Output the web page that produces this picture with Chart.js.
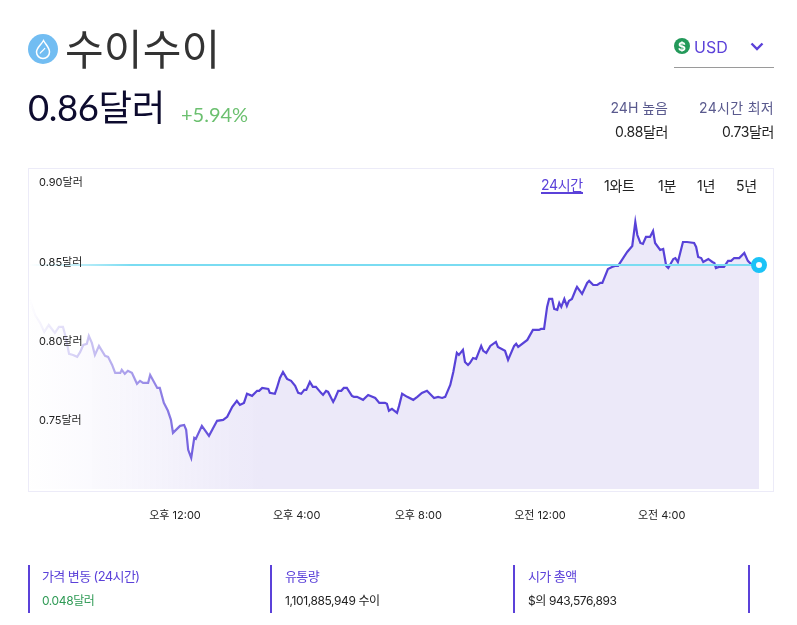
<!DOCTYPE html>
<html lang="ko">
<head>
<meta charset="utf-8">
<title>수이수이</title>
<script src="https://cdn.jsdelivr.net/npm/chart.js@4"></script>
<style>
  html, body { margin: 0; padding: 0; background: #fff; }
  body { width: 797px; height: 625px; position: relative; overflow: hidden; font-family: Inter, "Noto Sans CJK KR", sans-serif; }
  body div, body span.t { position: absolute; white-space: nowrap; }
  #myChart { position: absolute; left: 0; top: 0; }
  #box { left: 28px; top: 168px; width: 744px; height: 322px; border: 1px solid #ecebf8; }
  .stat { top: 565px; width: 2px; height: 48px; background: #5b41d9; }
  .statLabel { top: 568px; font-size: 13px; color: #5b41d9; line-height: 16px; letter-spacing: -0.6px; }
  .statValue { top: 593px; font-size: 12px; color: #222; line-height: 16px; letter-spacing: -0.4px; }
  .tab { top: 177px; font-size: 14px; line-height: 18px; color: #222; letter-spacing: -0.3px; }
  .hl { font-size: 14px; line-height: 18px; text-align: right; right: 23px; }
</style>
</head>
<body>
<div id="box"></div>
<canvas id="myChart" width="797" height="625"></canvas>

<svg style="position:absolute;left:28px;top:34px" width="30" height="30" viewBox="0 0 30 30">
  <circle cx="15" cy="15" r="15" fill="#72bdf2"/>
  <path d="M15.5 6.5 C18 11 21.5 13.5 21.5 18 A6.5 6.5 0 0 1 8.5 18 C8.5 13.5 13 11 15.5 6.5 Z" fill="none" stroke="#fff" stroke-width="1.5"/>
  <path d="M12 19.5 C13 17.5 15.5 16.5 17 14" fill="none" stroke="#fff" stroke-width="1.2"/>
</svg>
<div style="left:65px;top:17px;font:400 42px/60px 'Noto Sans CJK KR';color:#333;letter-spacing:0.2px">수이수이</div>
<div style="left:28px;top:82px;font:400 36.5px/50px Lato,'Noto Sans CJK KR';color:#0d0b2e;letter-spacing:-0.4px">0.86달러</div>
<div style="left:181px;top:100px;font:400 20px/28px Lato;color:#6cc070">+5.94%</div>

<svg style="position:absolute;left:674px;top:38px" width="16" height="16" viewBox="0 0 16 16">
  <circle cx="8" cy="8" r="8" fill="#23995a"/>
  <text x="8" y="12.5" text-anchor="middle" font-family="Inter" font-weight="700" font-size="12" fill="#fff">$</text>
</svg>
<div style="left:694px;top:37px;font:400 16px/20px Inter;color:#5b41d9">USD</div>
<svg style="position:absolute;left:750px;top:42px" width="14" height="10" viewBox="0 0 14 10">
  <path d="M1.5 1.5 L7 7 L12.5 1.5" fill="none" stroke="#5b41d9" stroke-width="2.4"/>
</svg>
<div style="left:674px;top:67px;width:100px;height:1px;background:#9a9a9a"></div>

<div class="hl" style="right:129px;top:99px;color:#5a5a8e">24H 높음</div>
<div class="hl" style="top:99px;color:#5a5a8e;letter-spacing:0.3px">24시간 최저</div>
<div class="hl" style="right:129px;top:123px;color:#222;letter-spacing:-0.4px">0.88달러</div>
<div class="hl" style="top:123px;color:#222;letter-spacing:-0.4px">0.73달러</div>

<div class="tab" style="left:541px;color:#5b41d9;border-bottom:2px solid #5b41d9;line-height:15px">24시간</div>
<div class="tab" style="left:604px">1와트</div>
<div class="tab" style="left:658px">1분</div>
<div class="tab" style="left:697px">1년</div>
<div class="tab" style="left:736px">5년</div>

<div class="stat" style="left:28px"></div>
<div class="stat" style="left:270px"></div>
<div class="stat" style="left:513px"></div>
<div class="stat" style="left:748px"></div>
<div class="statLabel" style="left:42px">가격 변동 (24시간)</div>
<div class="statValue" style="left:42px;color:#2f9a55">0.048달러</div>
<div class="statLabel" style="left:285px">유통량</div>
<div class="statValue" style="left:285px">1,101,885,949 수이</div>
<div class="statLabel" style="left:528px">시가 총액</div>
<div class="statValue" style="left:528px">$의 943,576,893</div>

<script>
//minutes since the start of the 24h window
const minutes = [2,12,22,30,39,51,59,67,73,79,87,95,101,107,114,118,124,130,138,150,156,164,170,180,183,189,195,203,213,219,225,235,239,253,258,266,274,280,284,298,306,310,314,320,326,329,341,355,371,383,391,401,410,416,424,430,440,450,454,460,472,475,485,489,495,501,509,517,525,531,537,543,547,554,560,566,576,580,586,590,600,604,610,616,621,627,637,641,647,659,669,683,691,702,706,710,716,726,730,736,746,758,766,775,785,799,807,815,821,831,837,844,848,856,860,866,870,876,882,892,896,902,910,921,925,939,945,957,961,965,983,994,1006,1010,1016,1022,1026,1032,1036,1042,1046,1050,1056,1061,1065,1071,1079,1081,1091,1101,1105,1113,1121,1127,1131,1142,1150,1156,1162,1180,1190,1196,1200,1206,1211,1217,1225,1231,1235,1245,1251,1257,1261,1271,1275,1280,1290,1298,1312,1316,1320,1326,1330,1340,1348,1352,1355,1361,1371,1379,1385,1391,1401,1411,1418,1426,1440];
const prices = [.8263,.8168,.8118,.8061,.8105,.8055,.8093,.8093,.8023,.7923,.7916,.7904,.7935,.7979,.7986,.8036,.7992,.7916,.7973,.791,.7904,.7853,.7803,.7803,.7822,.7797,.7816,.7803,.7734,.7753,.774,.774,.779,.7708,.7708,.7614,.7564,.7507,.7425,.7469,.7475,.7444,.7318,.7267,.7393,.7387,.7469,.7406,.7501,.7507,.7526,.7589,.7627,.7601,.7614,.7671,.7658,.769,.769,.7708,.7702,.7677,.7671,.7708,.7771,.7809,.7765,.7753,.7721,.7677,.7671,.7696,.7696,.7746,.7715,.7715,.7677,.7664,.769,.7683,.762,.7645,.769,.769,.7708,.7708,.7658,.7652,.7652,.7633,.7664,.7645,.7614,.7614,.7608,.7564,.7576,.7551,.7595,.7671,.7652,.7633,.7652,.7677,.769,.7645,.7652,.7645,.7652,.7727,.7809,.7929,.7916,.7948,.7872,.7853,.7866,.7897,.7891,.7973,.7942,.7929,.7973,.7998,.7967,.7942,.7885,.7973,.7986,.7967,.8011,.8074,.8074,.808,.808,.8219,.8269,.8269,.8206,.82,.8244,.8219,.8269,.8225,.8257,.8269,.8332,.8345,.8301,.837,.8383,.8357,.8357,.837,.837,.8458,.8471,.8477,.8477,.8565,.8603,.8754,.8672,.8622,.8616,.866,.866,.8698,.8622,.8578,.8584,.8477,.8464,.8521,.8527,.8502,.8628,.8628,.8622,.8597,.8534,.8527,.8502,.8521,.8502,.8496,.8464,.8471,.8471,.8509,.8509,.8527,.8527,.8559,.8509,.8483,.8483];
const priceTicks = [0.75, 0.80, 0.85, 0.90];
const priceLabels = ["0.75달러", "0.80달러", "0.85달러", "0.90달러"];
const timeTicks = [288, 528, 768, 1008, 1248];
const timeLabels = ["오후 12:00", "오후 4:00", "오후 8:00", "오전 12:00", "오전 4:00"];

const lastPrice = prices[prices.length - 1];

//left side of the chart fades out
function fade(context, rgb, stops) {
  const area = context.chart.chartArea;
  if (!area) return "rgb(" + rgb + ")";
  const g = context.chart.ctx.createLinearGradient(area.left, 0, area.right, 0);
  stops.forEach((s) => g.addColorStop(s[0], "rgba(" + rgb + "," + s[1] + ")"));
  return g;
}

const ctx = document.getElementById("myChart");
new Chart(ctx, {
  type: "line",
  data: {
    datasets: [
      {
        label: "last",
        data: [{ x: 0, y: lastPrice }, { x: 1440, y: lastPrice }],
        borderColor: (c) => fade(c, "122,220,242", [[0, 0], [0.14, 1], [1, 1]]),
        borderWidth: 2,
        pointRadius: [0, 5.5],
        pointBackgroundColor: "#fff",
        pointBorderColor: "#1cc3f7",
        pointBorderWidth: 5,
        clip: false,
        fill: false,
        order: 0,
      },
      {
        label: "price",
        data: minutes.map((m, i) => ({ x: m, y: prices[i] })),
        borderColor: (c) => fade(c, "88,66,216", [[0, 0], [0.27, 1], [1, 1]]),
        backgroundColor: (c) => fade(c, "236,233,249", [[0, 0], [0.12, 0.35], [0.27, 0.85], [0.32, 1], [1, 1]]),
        borderWidth: 2.2,
        pointRadius: 0,
        tension: 0,
        fill: "start",
        order: 1,
      },
    ],
  },
  options: {
    responsive: false,
    animation: false,
    layout: { padding: { left: 29, right: 38, top: 170, bottom: 103 } },
    plugins: { legend: { display: false }, tooltip: { enabled: false } },
    scales: {
      x: {
        type: "linear",
        min: 0,
        max: 1440,
        border: { display: false },
        grid: { display: false, drawTicks: false },
        afterBuildTicks: (axis) => { axis.ticks = timeTicks.map((v) => ({ value: v })); },
        afterFit: (axis) => { axis.height = 33; },
        ticks: {
          autoSkip: false,
          maxRotation: 0,
          padding: 20,
          color: "#222",
          font: { family: "Inter, 'Noto Sans CJK KR'", size: 11 },
          callback: (v) => timeLabels[timeTicks.indexOf(v)],
        },
      },
      y: {
        min: 0.7071,
        max: 0.9082,
        border: { display: false },
        grid: { display: false, drawTicks: false },
        afterBuildTicks: (axis) => { axis.ticks = priceTicks.map((v) => ({ value: v })); },
        afterFit: (axis) => { axis.width = 0; },
        ticks: {
          mirror: true,
          padding: 10,
          z: 1,
          color: "#222",
          font: { family: "Inter, 'Noto Sans CJK KR'", size: 11 },
          callback: (v) => priceLabels[priceTicks.indexOf(v)],
        },
      },
    },
  },
});
</script>
</body>
</html>
